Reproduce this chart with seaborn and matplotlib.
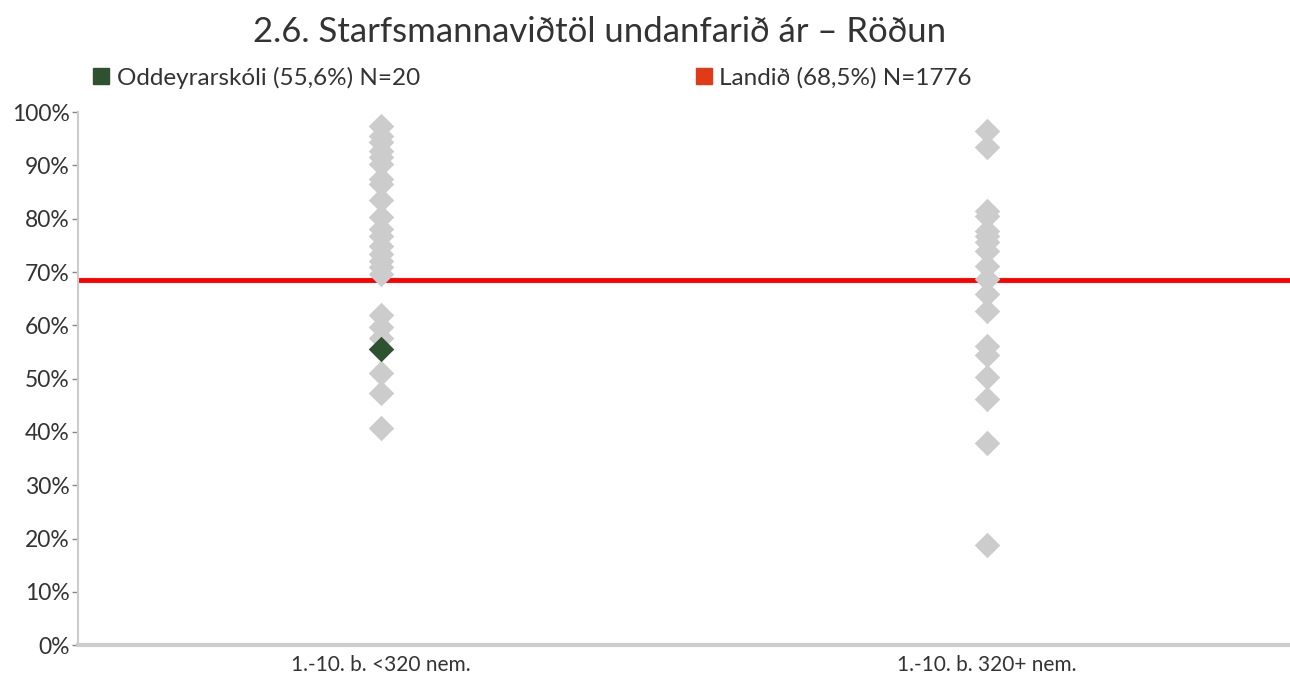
import matplotlib.pyplot as plt
import pandas as pd
import seaborn as sns
from matplotlib.lines import Line2D
from matplotlib.ticker import PercentFormatter

CATEGORIES = ["1.-10. b. <320 nem.", "1.-10. b. 320+ nem."]

SMALL_SCHOOLS = [
    97.4, 95.5, 94.4, 92.7, 91.5, 90.2, 87.4, 86.5, 83.6, 80.3, 78.0, 76.7,
    74.8, 73.3, 72.0, 70.9, 69.7, 62.0, 59.6, 57.7, 51.1, 47.4, 40.8,
]
LARGE_SCHOOLS = [
    96.5, 93.4, 81.4, 80.5, 77.7, 76.7, 75.6, 73.9, 71.1, 68.6, 65.8, 62.6,
    56.1, 54.5, 50.4, 46.1, 37.9, 18.8,
]

SCHOOL_NAME = "Oddeyrarskóli"
SCHOOL_VALUE = 55.6
SCHOOL_N = 20
NATIONAL_VALUE = 68.5
NATIONAL_N = 1776

TITLE = "2.6. Starfsmannaviðtöl undanfarið ár – Röðun"

GREY = "#cccccc"
GREEN = "#2e5230"
LINE_RED = "#ff0000"
LEGEND_RED = "#e03a16"


def main() -> None:
    sns.set_theme(style="white")
    plt.rcParams["font.family"] = ["Lato", "DejaVu Sans"]

    others = pd.DataFrame(
        {
            "group": [CATEGORIES[0]] * len(SMALL_SCHOOLS) + [CATEGORIES[1]] * len(LARGE_SCHOOLS),
            "value": SMALL_SCHOOLS + LARGE_SCHOOLS,
        }
    )
    school = pd.DataFrame({"group": [CATEGORIES[0]], "value": [SCHOOL_VALUE]})

    fig = plt.figure(figsize=(12.9, 6.75), dpi=100)
    ax = fig.add_axes([0.0605, 0.044, 0.9395, 0.79])

    ax.axhline(NATIONAL_VALUE, color=LINE_RED, linewidth=3.5, zorder=1)
    sns.stripplot(
        data=others, x="group", y="value", order=CATEGORIES, jitter=False,
        marker="D", color=GREY, size=13, linewidth=0, ax=ax, zorder=2,
    )
    sns.stripplot(
        data=school, x="group", y="value", order=CATEGORIES, jitter=False,
        marker="D", color=GREEN, size=13, linewidth=0, ax=ax, zorder=3,
    )

    ax.set_xlim(-0.5, 1.5)
    ax.set_ylim(0, 100)
    ax.set_yticks(range(0, 101, 10))
    ax.yaxis.set_major_formatter(PercentFormatter(decimals=0))
    ax.set_xlabel("")
    ax.set_ylabel("")
    ax.tick_params(axis="y", left=True, length=4, width=1, color="#888888",
                   labelsize=16.5, labelcolor="#333333", pad=2)
    ax.tick_params(axis="x", bottom=False, labelsize=15, labelcolor="#333333", pad=1)

    for side in ["top", "right"]:
        ax.spines[side].set_visible(False)
    ax.spines["left"].set_color(GREY)
    ax.spines["left"].set_linewidth(1.5)
    ax.spines["bottom"].set_color(GREY)
    ax.spines["bottom"].set_linewidth(3)

    fig.text(0.465, 0.953, TITLE, ha="center", va="center", fontsize=25,
             color="#333333")

    handles = [
        Line2D([], [], marker="s", linestyle="", markersize=12, color=GREEN),
        Line2D([], [], marker="s", linestyle="", markersize=12, color=LEGEND_RED),
    ]
    labels = [
        f"{SCHOOL_NAME} ({SCHOOL_VALUE:.1f}%) N={SCHOOL_N}".replace(".", ",", 1),
        f"Landið ({NATIONAL_VALUE:.1f}%) N={NATIONAL_N}".replace(".", ",", 1),
    ]
    fig.legend(
        handles, labels, loc="center left", bbox_to_anchor=(0.055, 0.885), ncol=2,
        frameon=False, fontsize=17.5, handlelength=0.7, handletextpad=0.3,
        columnspacing=11.3, labelcolor="#333333",
    )

    fig.savefig("out.png", dpi=100)
    plt.close(fig)


if __name__ == "__main__":
    main()
